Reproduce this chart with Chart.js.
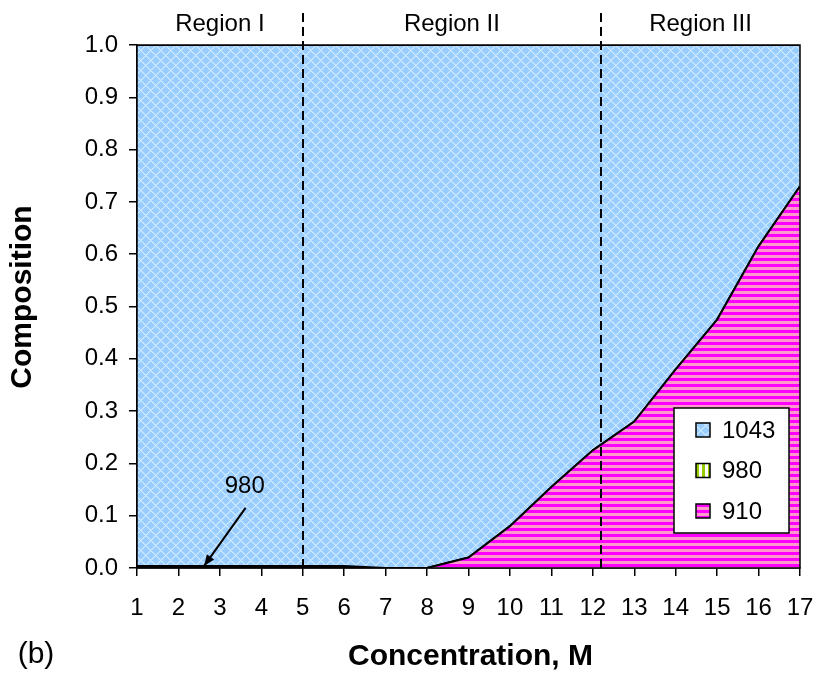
<!DOCTYPE html>
<html>
<head>
<meta charset="utf-8">
<script src="https://cdn.jsdelivr.net/npm/chart.js@4.4.1/dist/chart.umd.min.js"></script>
<style>
  html, body { margin: 0; padding: 0; background: #ffffff; }
  #wrap { width: 816px; height: 675px; }
</style>
</head>
<body>
<div id="wrap"><canvas id="c" width="816" height="675"></canvas></div>
<script>
// Concentration (M) on the x axis
const concentration = [1, 2, 3, 4, 5, 6, 7, 8, 9, 10, 11, 12, 13, 14, 15, 16, 17];
// Fraction of each species, stacked from the bottom up: 910, 980, 1043
const phase910  = [0, 0, 0, 0, 0, 0, 0, 0, 0.02, 0.08, 0.155, 0.225, 0.28, 0.38, 0.475, 0.615, 0.73];
const phase980  = [0.004, 0.004, 0.004, 0.004, 0.004, 0.004, 0, 0, 0, 0, 0, 0, 0, 0, 0, 0, 0];
const phase1043 = [0.996, 0.996, 0.996, 0.996, 0.996, 0.996, 1, 1, 0.98, 0.92, 0.845, 0.775, 0.72, 0.62, 0.525, 0.385, 0.27];
// Region boundaries (M) and their names
const regionBounds = [5, 12.2];
const regionNames = ['Region I', 'Region II', 'Region III'];
// Callout for the thin 980 band: label position and arrow (data units)
const calloutText = '980';
const calloutLabel = { x: 3.6, y: 0.157 };
const calloutFrom = { x: 3.62, y: 0.115 };
const calloutTo = { x: 2.62, y: 0.004 };

const FONT = "'Liberation Sans', Arial, Helvetica, sans-serif";

// Build a repeating fill from a small per-pixel tile
function makePattern(w, h, colorAt) {
  const c = document.createElement('canvas');
  c.width = w; c.height = h;
  const g = c.getContext('2d');
  for (let i = 0; i < w; i++) {
    for (let j = 0; j < h; j++) {
      g.fillStyle = colorAt(i, j);
      g.fillRect(i, j, 1, 1);
    }
  }
  return g.createPattern(c, 'repeat');
}

// Light blue with a pale diagonal lattice
const fill1043 = makePattern(10, 10, (i, j) => {
  const d1 = (i - j + 10) % 10, d2 = (i + j) % 10;
  if (d1 === 0 || d2 === 0) return '#D2ECFF';
  if (d1 === 1 || d2 === 1) return '#B5DCFF';
  return '#99CCFF';
});
// Yellow-green with white vertical stripes
const fill980 = makePattern(6, 6, (i) => (i < 3 ? '#99CC00' : '#FFFFFF'));
// Magenta with pink horizontal stripes
const fill910 = makePattern(6, 6, (i, j) => (j < 3 ? '#FF00FF' : '#FF99CC'));

function series(values) {
  return concentration.map((x, i) => ({ x: x, y: values[i] }));
}

const overlay = {
  id: 'overlay',
  afterDatasetsDraw(chart) {
    const { ctx, chartArea: a, scales: { x, y } } = chart;
    ctx.save();

    // plot frame
    ctx.strokeStyle = '#000';
    ctx.lineWidth = 1.5;
    ctx.strokeRect(a.left, a.top, a.right - a.left, a.bottom - a.top);

    // dashed region boundaries
    ctx.setLineDash([9, 5]);
    ctx.lineWidth = 2;
    regionBounds.forEach(b => {
      const px = Math.round(x.getPixelForValue(b));
      ctx.beginPath();
      ctx.moveTo(px, a.bottom);
      ctx.lineTo(px, 12);
      ctx.stroke();
    });
    ctx.setLineDash([]);

    // region names above the plot
    ctx.fillStyle = '#000';
    ctx.font = '24px ' + FONT;
    ctx.textAlign = 'center';
    ctx.textBaseline = 'middle';
    const edges = [x.min].concat(regionBounds, [x.max]);
    regionNames.forEach((name, k) => {
      const cx = (x.getPixelForValue(edges[k]) + x.getPixelForValue(edges[k + 1])) / 2;
      ctx.fillText(name, cx, 24);
    });

    // callout for the 980 band
    const fx = x.getPixelForValue(calloutFrom.x), fy = y.getPixelForValue(calloutFrom.y);
    const tx = x.getPixelForValue(calloutTo.x), ty = y.getPixelForValue(calloutTo.y);
    ctx.lineWidth = 2;
    ctx.beginPath();
    ctx.moveTo(fx, fy);
    ctx.lineTo(tx, ty);
    ctx.stroke();
    const ang = Math.atan2(ty - fy, tx - fx);
    const hl = 11, hw = 4.5;
    ctx.beginPath();
    ctx.moveTo(tx, ty);
    ctx.lineTo(tx - hl * Math.cos(ang) + hw * Math.sin(ang), ty - hl * Math.sin(ang) - hw * Math.cos(ang));
    ctx.lineTo(tx - hl * Math.cos(ang) - hw * Math.sin(ang), ty - hl * Math.sin(ang) + hw * Math.cos(ang));
    ctx.closePath();
    ctx.fill();
    ctx.font = '24px ' + FONT;
    ctx.fillText(calloutText, x.getPixelForValue(calloutLabel.x), y.getPixelForValue(calloutLabel.y));

    // legend box, listed top-down in stacking order
    const bx = a.right - 126, by = a.bottom - 160, bw = 115, bh = 125;
    ctx.fillStyle = '#fff';
    ctx.fillRect(bx, by, bw, bh);
    ctx.lineWidth = 1.5;
    ctx.strokeStyle = '#000';
    ctx.strokeRect(bx, by, bw, bh);
    const items = chart.data.datasets.slice().reverse();
    ctx.textAlign = 'left';
    items.forEach((ds, k) => {
      const cy = by + 22 + k * 40.5;
      ctx.fillStyle = ds.backgroundColor;
      ctx.fillRect(bx + 22, cy - 7, 14, 14);
      ctx.lineWidth = 1.5;
      ctx.strokeRect(bx + 22, cy - 7, 14, 14);
      ctx.fillStyle = '#000';
      ctx.fillText(ds.label, bx + 48, cy + 1);
    });

    // axis titles and panel tag
    ctx.font = 'bold 30px ' + FONT;
    ctx.textAlign = 'center';
    ctx.fillText('Concentration, M', (a.left + a.right) / 2 + 2, 657);
    ctx.save();
    ctx.translate(23, 297);
    ctx.rotate(-Math.PI / 2);
    ctx.fillText('Composition', 0, 0);
    ctx.restore();
    ctx.font = '30px ' + FONT;
    ctx.fillText('(b)', 36, 655);

    ctx.restore();
  }
};

const tickFont = { family: FONT, size: 24 };
const axisGrid = { drawOnChartArea: false, drawTicks: true, tickLength: 8, color: '#000', lineWidth: 1.5 };

// fixed axis boxes so the plot area lands where the tick labels expect it
function fixBox(size, horizontal) {
  return function (s) {
    if (horizontal) { s.height = size; } else { s.width = size; }
    s.paddingLeft = 0; s.paddingRight = 0; s.paddingTop = 0; s.paddingBottom = 0;
  };
}

new Chart(document.getElementById('c'), {
  type: 'line',
  data: {
    datasets: [
      { label: '910', data: series(phase910), backgroundColor: fill910, borderColor: '#000', borderWidth: 2, fill: 'origin', pointRadius: 0, tension: 0 },
      { label: '980', data: series(phase980), backgroundColor: fill980, borderColor: '#000', borderWidth: 2, fill: '-1', pointRadius: 0, tension: 0 },
      { label: '1043', data: series(phase1043), backgroundColor: fill1043, borderColor: '#000', borderWidth: 2, fill: '-1', pointRadius: 0, tension: 0 }
    ]
  },
  options: {
    responsive: false,
    animation: false,
    devicePixelRatio: 1,
    layout: { padding: { top: 45, right: 16, left: 0, bottom: 0 } },
    plugins: { legend: { display: false }, tooltip: { enabled: false } },
    scales: {
      x: {
        type: 'linear', min: 1, max: 17,
        ticks: { stepSize: 1, color: '#000', font: tickFont, padding: 18, maxRotation: 0, autoSkip: false },
        grid: axisGrid,
        border: { color: '#000', width: 1.5 },
        afterFit: fixBox(107, true)
      },
      y: {
        type: 'linear', stacked: true, min: 0, max: 1,
        ticks: { stepSize: 0.1, color: '#000', font: tickFont, padding: 11, callback: v => v.toFixed(1) },
        grid: axisGrid,
        border: { color: '#000', width: 1.5 },
        afterFit: fixBox(137, false)
      }
    }
  },
  plugins: [overlay]
});
</script>
</body>
</html>
